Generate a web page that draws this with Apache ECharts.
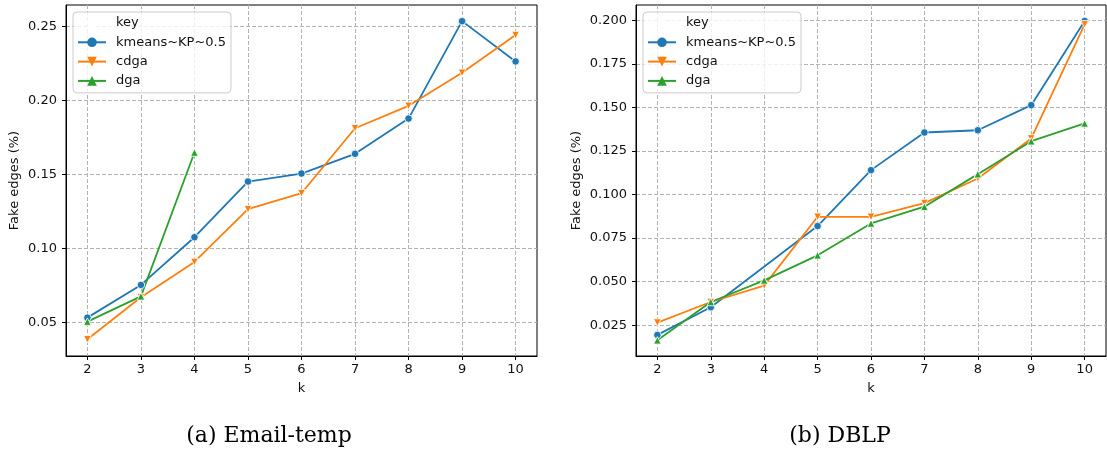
<!DOCTYPE html>
<html>
<head>
<meta charset="utf-8">
<script src="https://cdn.jsdelivr.net/npm/echarts@6/dist/echarts.min.js"></script>
<style>html,body{margin:0;padding:0;background:#fff;}#main{width:1107px;height:455px;}</style>
</head>
<body>
<div id="main"></div>
<script>
// ---- data ----
const kValues = [2, 3, 4, 5, 6, 7, 8, 9, 10];
const seriesNames = ['kmeans~KP~0.5', 'cdga', 'dga'];

const emailKmeans = [0.0534, 0.0755, 0.1077, 0.1453, 0.1507, 0.1640, 0.1878, 0.2536, 0.2264];
const emailCdga   = [0.0388, 0.0672, 0.0910, 0.1266, 0.1374, 0.1813, 0.1964, 0.2187, 0.2442];
const emailDga    = [0.0507, 0.0678, 0.1649, null, null, null, null, null, null];

const dblpKmeans  = [0.0194, 0.0353, null, 0.0819, 0.1140, 0.1356, 0.1369, 0.1513, 0.1996];
const dblpCdga    = [0.0265, 0.0383, 0.0477, 0.0872, 0.0872, 0.0951, 0.1092, 0.1322, 0.1977];
const dblpDga     = [0.0163, 0.0383, 0.0507, 0.0651, 0.0834, 0.0930, 0.1117, 0.1306, 0.1408];

const xTicks = [2, 3, 4, 5, 6, 7, 8, 9, 10];
const emailYTicks = [0.05, 0.10, 0.15, 0.20, 0.25];
const dblpYTicks  = [0.025, 0.050, 0.075, 0.100, 0.125, 0.150, 0.175, 0.200];
const captions = ['(a) Email-temp', '(b) DBLP'];
const xLabel = 'k';
const yLabel = 'Fake edges (%)';
const legendTitle = 'key';

// ---- styling ----
const colors = ['#1f77b4', '#ff7f0e', '#2ca02c'];
const symbols = ['circle', 'triangle', 'triangle'];
const rotations = [0, 180, 0];
const FONT = 'DejaVu Sans';
const TXT = '#111';

function pairs(vals) { return kValues.map((k, i) => [k, vals[i]]); }

function xAxis(gi) {
  return {
    type: 'value', gridIndex: gi, min: 1.6, max: 10.4,
    name: xLabel, nameLocation: 'middle', nameGap: 26,
    nameTextStyle: { fontFamily: FONT, fontSize: 13, color: TXT },
    axisLine: { show: true, onZero: false, lineStyle: { color: '#000', width: 1 } },
    axisTick: { show: true, customValues: xTicks, length: 4, lineStyle: { color: '#000' } },
    axisLabel: { customValues: xTicks, margin: 7, fontFamily: FONT, fontSize: 13, color: TXT },
    splitLine: { show: true, lineStyle: { type: [4, 2], color: '#b3b3b3', width: 1 } }
  };
}
function yAxis(gi, min, max, ticks, dec, gap) {
  return {
    type: 'value', gridIndex: gi, min: min, max: max,
    name: yLabel, nameLocation: 'middle', nameGap: gap,
    nameTextStyle: { fontFamily: FONT, fontSize: 13, color: TXT },
    axisLine: { show: true, onZero: false, lineStyle: { color: '#000', width: 1 } },
    axisTick: { show: true, customValues: ticks, length: 4, lineStyle: { color: '#000' } },
    axisLabel: { customValues: ticks, margin: 9, fontFamily: FONT, fontSize: 13, color: TXT,
                 formatter: v => Number(v).toFixed(dec) },
    splitLine: { show: true, lineStyle: { type: [4, 2], color: '#b3b3b3', width: 1 } }
  };
}
function lineSeries(idx, gi, vals) {
  return {
    type: 'line', name: seriesNames[idx], xAxisIndex: gi, yAxisIndex: gi,
    data: pairs(vals), connectNulls: true,
    symbol: symbols[idx], symbolRotate: rotations[idx],
    symbolSize: 7.5,
    showAllSymbol: true,
    lineStyle: { color: colors[idx], width: 1.8 },
    itemStyle: { color: colors[idx], borderColor: '#fff', borderWidth: 0.8 },
    emphasis: { disabled: true }
  };
}
function keySeries(gi) {
  return { type: 'line', name: legendTitle, xAxisIndex: gi, yAxisIndex: gi, data: [],
           color: 'rgba(0,0,0,0)', lineStyle: { color: 'rgba(0,0,0,0)' },
           itemStyle: { color: 'rgba(0,0,0,0)', borderWidth: 0 } };
}
function legend(left) {
  return {
    left: left, top: 12, orient: 'vertical',
    data: [legendTitle].concat(seriesNames),
    itemWidth: 28, itemHeight: 12, itemGap: 5.3,
    padding: [4, 5, 5, 4],
    backgroundColor: 'rgba(255,255,255,0.8)',
    borderColor: '#cccccc', borderWidth: 1, borderRadius: 4,
    selectedMode: false,
    itemStyle: { borderWidth: 0 },
    lineStyle: { width: 2 },
    textStyle: { fontFamily: FONT, fontSize: 13, color: TXT, lineHeight: 14, padding: [0, 0, 0, 5] }
  };
}

const chart = echarts.init(document.getElementById('main'), null, { renderer: 'canvas' });
chart.setOption({
  animation: false,
  backgroundColor: '#fff',
  grid: [
    { left: 66, top: 5, width: 471, height: 351, show: true, borderColor: '#000', borderWidth: 1, backgroundColor: 'transparent' },
    { left: 636, top: 5, width: 470, height: 351, show: true, borderColor: '#000', borderWidth: 1, backgroundColor: 'transparent' }
  ],
  xAxis: [xAxis(0), xAxis(1)],
  yAxis: [
    yAxis(0, 0.0275, 0.2645, emailYTicks, 2, 45),
    yAxis(1, 0.0073, 0.2088, dblpYTicks, 3, 53)
  ],
  legend: [legend(73), legend(643)],
  series: [
    keySeries(0),
    lineSeries(0, 0, emailKmeans),
    lineSeries(1, 0, emailCdga),
    lineSeries(2, 0, emailDga),
    keySeries(1),
    lineSeries(0, 1, dblpKmeans),
    lineSeries(1, 1, dblpCdga),
    lineSeries(2, 1, dblpDga)
  ],
  graphic: [
    { type: 'text', x: 269, y: 436, style: { text: captions[0], font: '22px "DejaVu Serif"', fill: '#000', align: 'center', verticalAlign: 'middle' } },
    { type: 'text', x: 840, y: 436, style: { text: captions[1], font: '22px "DejaVu Serif"', fill: '#000', align: 'center', verticalAlign: 'middle' } }
  ]
});
</script>
</body>
</html>
